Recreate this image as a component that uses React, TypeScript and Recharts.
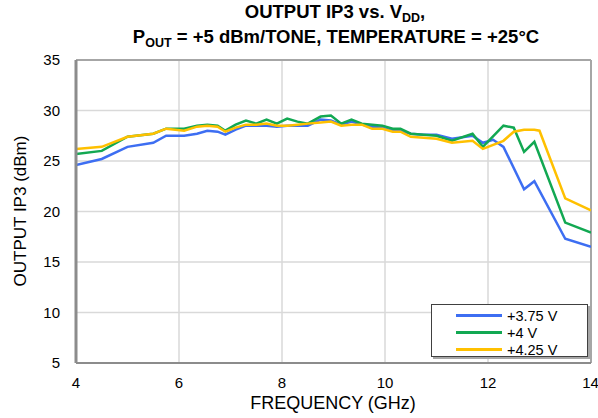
import React from 'react';
import { LineChart, Line, XAxis, YAxis, CartesianGrid, ReferenceLine } from 'recharts';

const freqs = [4, 4.5, 5, 5.5, 5.75, 6.1, 6.35, 6.55, 6.75, 6.9, 7.1, 7.3, 7.5, 7.7, 7.9, 8.1, 8.3, 8.5, 8.75, 8.95, 9.15, 9.35, 9.55, 9.75, 9.95, 10.15, 10.3, 10.5, 10.75, 11.0, 11.3, 11.7, 11.9, 12.1, 12.3, 12.5, 12.7, 12.9, 13.0, 13.5, 14];
const v375 = [24.6, 25.2, 26.4, 26.8, 27.5, 27.5, 27.7, 28.0, 27.9, 27.6, 28.1, 28.5, 28.5, 28.5, 28.4, 28.5, 28.5, 28.5, 29.1, 29.0, 28.6, 28.9, 28.6, 28.4, 28.3, 28.0, 28.0, 27.7, 27.6, 27.6, 27.2, 27.5, 26.8, 27.1, 26.4, null, 22.2, 23.0, null, 17.3, 16.5];
const v400 = [25.7, 26.0, 27.4, 27.7, 28.2, 28.2, 28.5, 28.6, 28.5, 28.0, 28.6, 29.0, 28.7, 29.1, 28.7, 29.2, 28.9, 28.7, 29.4, 29.5, 28.7, 29.1, 28.7, 28.6, 28.5, 28.2, 28.2, 27.7, 27.6, 27.5, 27.0, 27.7, 26.4, null, 28.5, 28.3, 25.9, 26.9, null, 18.9, 17.9];
const v425 = [26.2, 26.4, 27.4, 27.7, 28.2, 28.0, 28.4, 28.5, 28.4, 27.9, 28.3, 28.6, 28.6, 28.7, 28.5, 28.5, 28.6, 28.7, 28.8, 28.9, 28.5, 28.6, 28.6, 28.2, 28.2, 27.9, 27.9, 27.4, 27.3, 27.2, 26.8, 27.0, 26.2, null, 27.0, 27.9, 28.1, 28.1, 28.0, 21.3, 20.1];
const xTicks = [4, 6, 8, 10, 12, 14];
const yTicks = [5, 10, 15, 20, 25, 30, 35];
const seriesNames = ['+3.75 V', '+4 V', '+4.25 V'];
const seriesColors = ['#3D6EF2', '#12A852', '#FFC000'];

const data = freqs.map((f, i) => ({ f, a: v375[i], b: v400[i], c: v425[i] }));
const keys = ['a', 'b', 'c'];

const FONT = '"Liberation Sans", Arial, sans-serif';

export default function App() {
  return (
    <div style={{ position: 'absolute', left: 0, top: 0, width: 598, height: 418, fontFamily: FONT, background: '#fff' }}>
      <div style={{ position: 'absolute', left: 0, width: 670, top: 2, height: 22, textAlign: 'center', fontWeight: 'bold', fontSize: 18.5, lineHeight: '20px', color: '#000' }}>
        OUTPUT IP3 vs. V<span style={{ fontSize: 12.5, position: 'relative', top: 4 }}>DD</span>,
      </div>
      <div style={{ position: 'absolute', left: 0, width: 672, top: 27, height: 22, textAlign: 'center', fontWeight: 'bold', fontSize: 18.5, lineHeight: '20px', color: '#000' }}>
        P<span style={{ fontSize: 12.5, position: 'relative', top: 4 }}>OUT</span> = +5 dBm/TONE, TEMPERATURE = +25°C
      </div>
      <div style={{ position: 'absolute', left: 21, top: 211, width: 0, height: 0 }}>
        <div style={{ position: 'absolute', transform: 'translate(-50%, -50%) rotate(-90deg)', whiteSpace: 'nowrap', fontSize: 17, color: '#000' }}>
          OUTPUT IP3 (dBm)
        </div>
      </div>
      <div style={{ position: 'absolute', left: 0, width: 666, top: 393, textAlign: 'center', fontSize: 18, color: '#000' }}>
        FREQUENCY (GHz)
      </div>
      <LineChart width={598} height={418} data={data} margin={{ top: 60, right: 7, bottom: 25, left: 36 }}>
        <CartesianGrid stroke="#D9D9D9" strokeWidth={1.5} horizontal vertical />
        <XAxis
          dataKey="f"
          type="number"
          domain={[4, 14]}
          ticks={xTicks}
          height={30}
          tickLine={false}
          axisLine={{ stroke: '#8C8C8C', strokeWidth: 2 }}
          tick={{ fill: '#000', fontSize: 15, fontFamily: FONT }}
          tickMargin={8}
          allowDataOverflow
        />
        <YAxis
          type="number"
          domain={[5, 35]}
          ticks={yTicks}
          width={40}
          tickLine={false}
          axisLine={{ stroke: '#8C8C8C', strokeWidth: 3 }}
          tick={{ fill: '#000', fontSize: 15, fontFamily: FONT }}
          tickMargin={10}
          allowDataOverflow
        />
        <ReferenceLine y={35} stroke="#A6A6A6" strokeWidth={2} />
        <ReferenceLine x={14} stroke="#A6A6A6" strokeWidth={2} />
        {keys.map((k, i) => (
          <Line
            key={k}
            dataKey={k}
            name={seriesNames[i]}
            stroke={seriesColors[i]}
            strokeWidth={2.5}
            dot={false}
            connectNulls
            type="linear"
            isAnimationActive={false}
          />
        ))}
      </LineChart>
      <div style={{ position: 'absolute', left: 431, top: 304, width: 155, height: 51, border: '1.5px solid #404040', background: '#fff', boxShadow: '2px 2px 0 #A6A6A6' }}>
        {seriesNames.map((n, i) => (
          <div key={n} style={{ position: 'absolute', left: 24, top: 2 + i * 17, height: 17, display: 'flex', alignItems: 'center', fontSize: 14.5, color: '#000' }}>
            <div style={{ width: 46, height: 2.5, background: seriesColors[i], marginRight: 5 }} />
            {n}
          </div>
        ))}
      </div>
    </div>
  );
}
